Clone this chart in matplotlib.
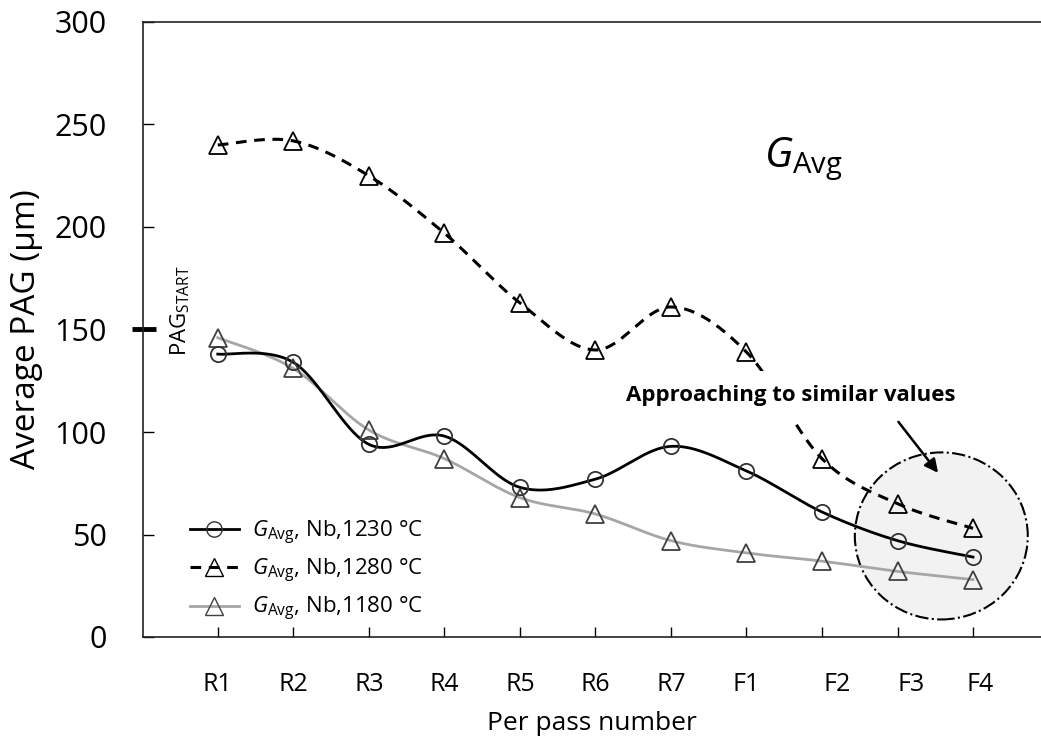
import matplotlib
matplotlib.use("Agg")
import matplotlib.pyplot as plt
import matplotlib.transforms as mtransforms
from matplotlib.patches import Ellipse
from matplotlib.lines import Line2D
import numpy as np

passes = ["R1", "R2", "R3", "R4", "R5", "R6", "R7", "F1", "F2", "F3", "F4"]
g_1230 = [138, 134, 94, 98, 73, 77, 93, 81, 61, 47, 39]
g_1280 = [240, 242, 225, 197, 163, 140, 161, 139, 87, 65, 53]
g_1180 = [146, 131, 101, 87, 68, 60, 47, 41, 37, 32, 28]
pag_start = 150

plt.rcParams["font.family"] = ["Open Sans", "DejaVu Sans"]
plt.rcParams["mathtext.fontset"] = "custom"
plt.rcParams["mathtext.rm"] = "Open Sans"
plt.rcParams["mathtext.it"] = "Open Sans:italic"
plt.rcParams["mathtext.bf"] = "Open Sans:bold"


def smooth(x, y, n=40):
    # Catmull-Rom style bezier through the points (like a spreadsheet "smoothed line")
    x = np.asarray(x, float)
    y = np.asarray(y, float)
    px = np.concatenate([[x[0]], x, [x[-1]]])
    py = np.concatenate([[y[0]], y, [y[-1]]])
    xs, ys = [], []
    t = np.linspace(0, 1, n)
    for i in range(1, len(px) - 2):
        p0 = np.array([px[i], py[i]])
        p3 = np.array([px[i + 1], py[i + 1]])
        c1 = p0 + (np.array([px[i + 1], py[i + 1]]) - np.array([px[i - 1], py[i - 1]])) / 6
        c2 = p3 - (np.array([px[i + 2], py[i + 2]]) - np.array([px[i], py[i]])) / 6
        b = ((1 - t) ** 3)[:, None] * p0 + (3 * (1 - t) ** 2 * t)[:, None] * c1 \
            + (3 * (1 - t) * t ** 2)[:, None] * c2 + (t ** 3)[:, None] * p3
        xs.extend(b[:, 0])
        ys.extend(b[:, 1])
    return np.array(xs), np.array(ys)


x = np.arange(len(passes))

fig = plt.figure(figsize=(10.41, 7.46), dpi=100)
ax = fig.add_axes([143 / 1041, 109 / 746, 898 / 1041, 615 / 746])

# shaded region around the last passes
ax.add_patch(Ellipse((9.58, 49.3), 2.29, 81.5, facecolor="#f2f2f2",
                     edgecolor="black", linestyle="-.", lw=1.5, zorder=1))

sx, sy = smooth(x, g_1280)
ax.plot(sx, sy, color="black", lw=2.2, ls=(0, (3.5, 2.5)), zorder=2)
ax.plot(x, g_1280, ls="none", marker="^", ms=13, mfc="none", mec="black", mew=1.3, zorder=3)

sx, sy = smooth(x, g_1180)
ax.plot(sx, sy, color="#a6a6a6", lw=2, zorder=2)
ax.plot(x, g_1180, ls="none", marker="^", ms=13, mfc="none", mec="#404040", mew=1.3, zorder=3)

sx, sy = smooth(x, g_1230)
ax.plot(sx, sy, color="black", lw=2, zorder=2)
ax.plot(x, g_1230, ls="none", marker="o", ms=11, mfc="none", mec="#333333", mew=1.3, zorder=3)

ax.set_xlim(-0.99, 10.9)
ax.set_ylim(0, 300)
ax.set_yticks(range(0, 301, 50))
ax.set_xticks(x)
ax.set_xticklabels(passes)
ax.tick_params(axis="x", direction="in", length=7, width=1, pad=25, labelsize=18)
ax.tick_params(axis="y", direction="in", length=8, width=1, pad=26, labelsize=22)
for lab, dx in zip(ax.get_xticklabels()[8:], [15, 14, 7]):
    lab.set_transform(lab.get_transform() + mtransforms.ScaledTranslation(dx / 100, 0, fig.dpi_scale_trans))

ax.spines["right"].set_visible(False)
for s in ["left", "bottom", "top"]:
    ax.spines[s].set_linewidth(1.2)
    ax.spines[s].set_color("#222222")

ax.set_ylabel("Average PAG (µm)", fontsize=24, labelpad=8)
ax.set_xlabel("Per pass number", fontsize=19, labelpad=10)

# starting grain size marker on the axis
tr = mtransforms.blended_transform_factory(ax.transAxes, ax.transData)
ax.plot([-0.012, 0.0145], [pag_start, pag_start], color="black", lw=3.5,
        transform=tr, clip_on=False, solid_capstyle="butt")
ax.text(-0.5, 137, r"PAG$_{\mathrm{START}}$", rotation=90, ha="center", va="bottom", fontsize=16)

ax.text(7.75, 233, r"$G_{\mathrm{Avg}}$", ha="center", va="center", fontsize=30)

ax.text(7.58, 118, "Approaching to similar values", ha="center", va="center",
        fontsize=16, fontweight="bold", zorder=4,
        bbox=dict(facecolor="white", edgecolor="none", pad=10))
ax.annotate("", xy=(9.56, 79), xytext=(8.99, 106), zorder=5,
            arrowprops=dict(arrowstyle="-|>", color="black", lw=1.8, mutation_scale=20))

handles = [
    Line2D([], [], color="black", lw=2, marker="o", ms=11, mfc="none", mec="#333333"),
    Line2D([], [], color="black", lw=2.2, ls=(0, (3.5, 2.5)), marker="^", ms=13, mfc="none", mec="black"),
    Line2D([], [], color="#a6a6a6", lw=2, marker="^", ms=13, mfc="none", mec="#404040"),
]
labels = [r"$G_{\mathrm{Avg}}$, Nb,1230 °C", r"$G_{\mathrm{Avg}}$, Nb,1280 °C", r"$G_{\mathrm{Avg}}$, Nb,1180 °C"]
ax.legend(handles, labels, loc="upper left", bbox_to_anchor=(0.03, 0.225), frameon=False,
          fontsize=16, handlelength=2.2, labelspacing=0.45, handletextpad=0.6)

fig.savefig("out.png", dpi=100)
